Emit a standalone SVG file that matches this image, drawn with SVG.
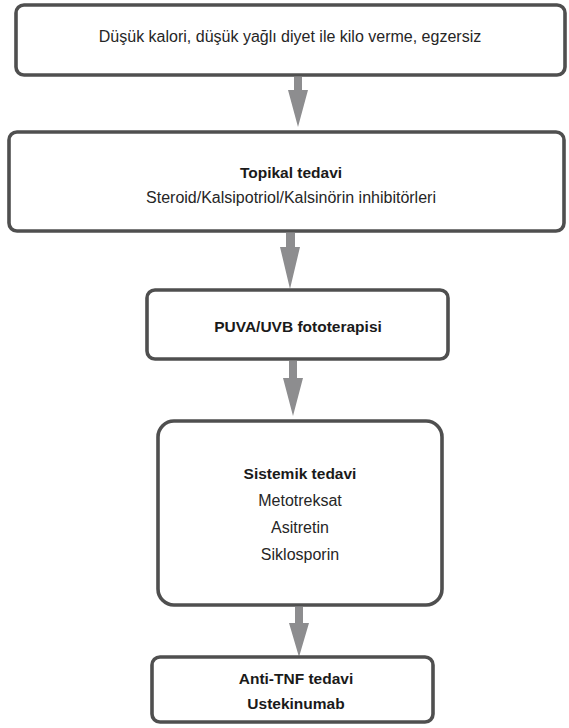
<svg xmlns="http://www.w3.org/2000/svg" width="569" height="728" viewBox="0 0 569 728">
  <style>
    .box { fill: #ffffff; stroke: #505050; stroke-width: 3.6; filter: url(#soft); }
    .arrow { fill: #8d8d8f; }
    text { font-family: "Liberation Sans", Arial, sans-serif; font-size: 16px; fill: #262626; text-anchor: middle; }
    .b { font-weight: bold; font-size: 15.5px; fill: #1a1a1a; }
  </style>
  <defs>
    <filter id="soft" x="-5%" y="-10%" width="110%" height="120%">
      <feGaussianBlur stdDeviation="0.6"/>
    </filter>
  </defs>
  <rect width="569" height="728" fill="#ffffff"/>

  <g id="connectors">
    <path class="arrow" d="M294,77 H302 V90 H308 L298,127 L288,90 H294 Z"/>
    <path class="arrow" d="M286,233 H295 V247 H300 L290,289 L280,247 H286 Z"/>
    <path class="arrow" d="M289,361 H297 V378 H303 L293,416 L283,378 H289 Z"/>
    <path class="arrow" d="M295,607 H303 V623 H309 L299,657 L289,623 H295 Z"/>
  </g>

  <g id="lifestyle">
    <rect class="box" x="16" y="5" width="549" height="70" rx="8"/>
    <text x="290" y="42">Düşük kalori, düşük yağlı diyet ile kilo verme, egzersiz</text>
  </g>

  <g id="topical">
    <rect class="box" x="9" y="132" width="555" height="99" rx="8"/>
    <text class="b" x="291" y="178">Topikal tedavi</text>
    <text x="291" y="203">Steroid/Kalsipotriol/Kalsinörin inhibitörleri</text>
  </g>

  <g id="phototherapy">
    <rect class="box" x="147" y="290" width="301" height="69" rx="8"/>
    <text class="b" x="298" y="332">PUVA/UVB fototerapisi</text>
  </g>

  <g id="systemic">
    <rect class="box" x="158" y="421" width="284" height="184" rx="16"/>
    <text class="b" x="300" y="479">Sistemik tedavi</text>
    <text x="300" y="506">Metotreksat</text>
    <text x="300" y="533">Asitretin</text>
    <text x="300" y="560">Siklosporin</text>
  </g>

  <g id="biologics">
    <rect class="box" x="152" y="657" width="281" height="65" rx="8"/>
    <text class="b" x="296" y="684">Anti-TNF tedavi</text>
    <text class="b" x="296" y="709">Ustekinumab</text>
  </g>
</svg>
